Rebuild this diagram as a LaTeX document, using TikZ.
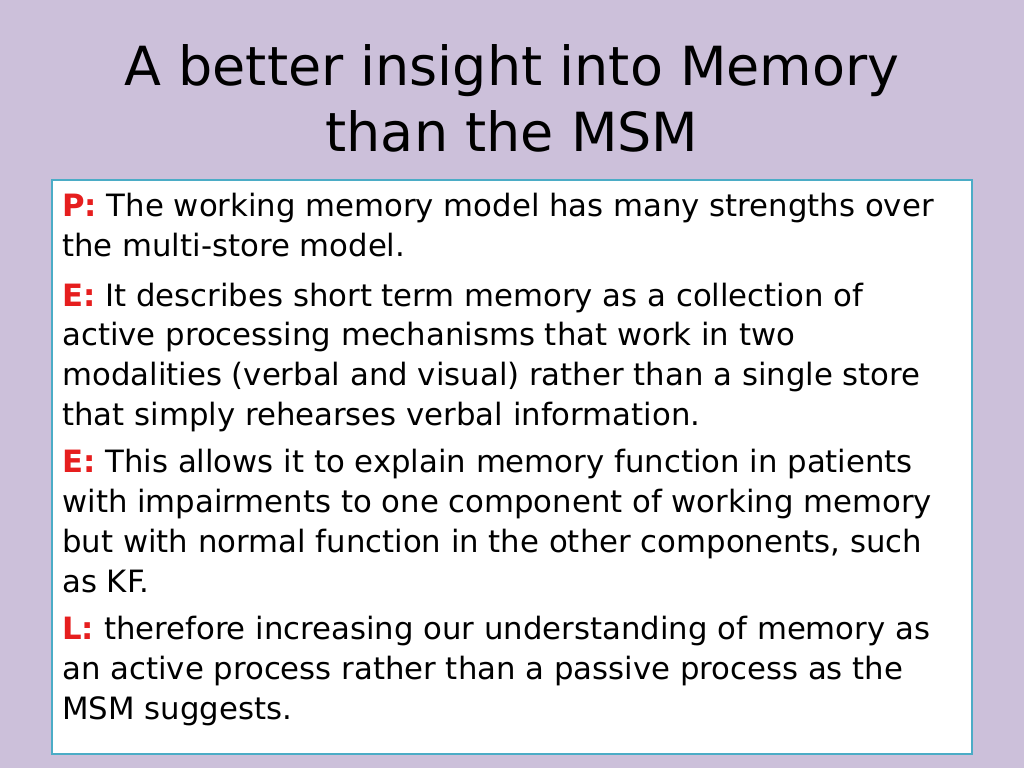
\documentclass[tikz,border=0pt]{standalone}
\usepackage{fontspec}
\setmainfont{DejaVu Sans}
\usetikzlibrary{positioning}
\definecolor{slidebg}{RGB}{204,192,218}
\definecolor{boxline}{RGB}{75,172,198}
\definecolor{peelred}{RGB}{230,30,30}
\newcommand{\pl}[1]{\textcolor{peelred}{\textbf{#1}}}
\begin{document}
\begin{tikzpicture}[x=0.02cm,y=-0.02cm]
  % Slide background
  \fill[slidebg] (0,0) rectangle (1024,768);
  \useasboundingbox (0,0) rectangle (1024,768);

  % Title
  \node[align=center, font=\fontsize{30.7}{37.5}\selectfont] (title) at (512,98)
    {A better insight into Memory\\than the MSM};

  % Text box
  \draw[boxline, line width=1.5pt, fill=white] (52,180) rectangle (972,754);
  \node[anchor=north west, align=left, inner sep=0pt,
        font=\fontsize{17.5}{22.6}\selectfont] (body) at (62,193)
    {\pl{P:} The working memory model has many strengths over\\
     the multi-store model.\\[0.2cm]
     \pl{E:} It describes short term memory as a collection of\\
     active processing mechanisms that work in two\\
     modalities (verbal and visual) rather than a single store\\
     that simply rehearses verbal information.\\[0.16cm]
     \pl{E:} This allows it to explain memory function in patients\\
     with impairments to one component of working memory\\
     but with normal function in the other components, such\\
     as KF.\\[0.16cm]
     \pl{L:} therefore increasing our understanding of memory as\\
     an active process rather than a passive process as the\\
     MSM suggests.};
\end{tikzpicture}
\end{document}
